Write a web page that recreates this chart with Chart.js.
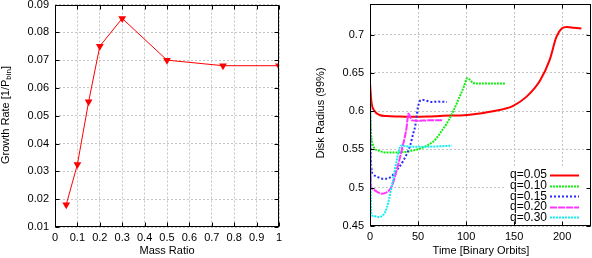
<!DOCTYPE html>
<html>
<head>
<meta charset="utf-8">
<script src="https://cdn.jsdelivr.net/npm/chart.js@4.4.1/dist/chart.umd.min.js"></script>
<style>
  html, body { margin: 0; padding: 0; background: #fff; }
  #wrap { position: relative; width: 592px; height: 258px; }
  .panel { position: absolute; top: 0; width: 296px; height: 258px; }
</style>
</head>
<body>
<div id="wrap">
  <div class="panel" style="left:0"><canvas id="growthChart" width="296" height="258"></canvas></div>
  <div class="panel" style="left:296px"><canvas id="radiusChart" width="296" height="258"></canvas></div>
</div>
<script>
// ---- left panel: growth rate vs mass ratio ----
const massRatio = [0.05, 0.1, 0.15, 0.2, 0.3, 0.5, 0.75, 1.0];
const growthRate = [0.018, 0.0325, 0.055, 0.075, 0.085, 0.070, 0.068, 0.068];
const massTicks = [0, 0.1, 0.2, 0.3, 0.4, 0.5, 0.6, 0.7, 0.8, 0.9, 1];
const massTickLabels = ["0", "0.1", "0.2", "0.3", "0.4", "0.5", "0.6", "0.7", "0.8", "0.9", "1"];
const growthTicks = [0.01, 0.02, 0.03, 0.04, 0.05, 0.06, 0.07, 0.08, 0.09];
const growthTickLabels = ["0.01", "0.02", "0.03", "0.04", "0.05", "0.06", "0.07", "0.08", "0.09"];

// ---- right panel: disk radius vs time ----
const seriesLabels = ["q=0.05", "q=0.10", "q=0.15", "q=0.20", "q=0.30"];

const tQ05 = [0, 1.5, 5, 10, 17, 30, 42, 60, 76, 94, 108, 128, 140, 149, 163, 177, 187, 194, 199.5, 205, 212, 220];
const rQ05 = [0.636, 0.612, 0.600, 0.595, 0.5936, 0.593, 0.5927, 0.593, 0.594, 0.5945, 0.596, 0.600, 0.603, 0.607, 0.619, 0.640, 0.667, 0.697, 0.708, 0.710, 0.709, 0.708];

const tQ10 = [0, 0.5, 1.5, 3, 5, 10, 17, 28, 42, 52, 62, 68, 75, 80, 87, 94, 98, 101, 104, 107, 110, 125, 141];
const rQ10 = [0.62, 0.585, 0.565, 0.556, 0.551, 0.548, 0.546, 0.546, 0.548, 0.551, 0.557, 0.563, 0.575, 0.584, 0.601, 0.621, 0.633, 0.643, 0.641, 0.637, 0.636, 0.636, 0.636];

const tQ15 = [0, 0.5, 1.5, 3, 7, 14, 21, 28, 35, 42, 45, 47, 50, 53, 56, 59, 65, 70, 80];
const rQ15 = [0.62, 0.56, 0.525, 0.518, 0.5146, 0.5116, 0.5134, 0.523, 0.536, 0.556, 0.571, 0.58, 0.6057, 0.6145, 0.6145, 0.6136, 0.612, 0.6125, 0.612];

const tQ20 = [0, 0.5, 1.5, 4, 7, 12, 17, 22.6, 27.8, 33, 38, 40, 42, 44, 50, 60, 75];
const rQ20 = [0.60, 0.53, 0.50, 0.497, 0.495, 0.492, 0.4937, 0.5016, 0.523, 0.549, 0.578, 0.597, 0.592, 0.588, 0.5875, 0.588, 0.588];

const tQ30 = [0, 0.5, 1.5, 4, 8.7, 14, 17.4, 22.6, 27.8, 31.3, 33, 42, 59, 70, 85];
const rQ30 = [0.625, 0.52, 0.465, 0.463, 0.4617, 0.4647, 0.4734, 0.5016, 0.536, 0.5536, 0.555, 0.5536, 0.5536, 0.554, 0.555];

const timeTicks = [0, 50, 100, 150, 200];
const timeTickLabels = ["0", "50", "100", "150", "200"];
const radiusTicks = [0.45, 0.5, 0.55, 0.6, 0.65, 0.7];
const radiusTickLabels = ["0.45", "0.5", "0.55", "0.6", "0.65", "0.7"];

// styles
const seriesColors = ["#ff0000", "#11ee11", "#2a2aff", "#ff33ff", "#11f0f0"];
const seriesDash = [[], [2, 1], [2, 2], [7, 1], [2, 1]];

Chart.defaults.font.family = "'Liberation Sans', Arial, sans-serif";
Chart.defaults.font.size = 11;
Chart.defaults.color = "#000";

function toPoints(xs, ys) {
  return xs.map((x, i) => ({ x: x, y: ys[i] }));
}

// box around the plot plus gnuplot-style inward ticks
const framePlugin = {
  id: "frame",
  afterDraw(chart) {
    const { ctx, chartArea: a, scales } = chart;
    const L = Math.round(a.left) + 0.5, R = Math.round(a.right) - 0.5;
    const T = Math.round(a.top) + 0.5, B = Math.round(a.bottom) - 0.5;
    ctx.save();
    ctx.strokeStyle = "#000";
    ctx.lineWidth = 1;
    ctx.beginPath();
    scales.x.ticks.forEach(t => {
      const px = Math.round(scales.x.getPixelForValue(t.value)) + 0.5;
      ctx.moveTo(px, B); ctx.lineTo(px, B - 4);
      ctx.moveTo(px, T); ctx.lineTo(px, T + 4);
    });
    scales.y.ticks.forEach(t => {
      const py = Math.round(scales.y.getPixelForValue(t.value)) + 0.5;
      ctx.moveTo(L, py); ctx.lineTo(L + 4, py);
      ctx.moveTo(R, py); ctx.lineTo(R - 4, py);
    });
    ctx.stroke();
    ctx.strokeRect(L, T, R - L, B - T);
    ctx.restore();
  }
};

// axis titles drawn by hand (left one needs a subscript)
const titlePlugin = {
  id: "axisText",
  afterDraw(chart, args, opts) {
    const ctx = chart.ctx;
    ctx.save();
    ctx.fillStyle = "#000";
    ctx.textBaseline = "middle";
    ctx.font = "11px 'Liberation Sans', Arial, sans-serif";
    ctx.textAlign = "center";
    ctx.fillText(opts.xText, opts.xPos[0], opts.xPos[1]);

    ctx.translate(opts.yPos[0], opts.yPos[1]);
    ctx.rotate(-Math.PI / 2);
    const mainFont = "11px 'Liberation Sans', Arial, sans-serif";
    const subFont = "8px 'Liberation Sans', Arial, sans-serif";
    const parts = opts.yParts;
    let total = 0;
    parts.forEach(p => { ctx.font = p.sub ? subFont : mainFont; total += ctx.measureText(p.text).width; });
    let cx = -total / 2;
    ctx.textAlign = "left";
    parts.forEach(p => {
      ctx.font = p.sub ? subFont : mainFont;
      ctx.fillText(p.text, cx, p.sub ? 3 : 0);
      cx += ctx.measureText(p.text).width;
    });
    ctx.restore();
  }
};

// key in the lower right corner, text right-aligned before the sample line
const keyPlugin = {
  id: "key",
  beforeDatasetsDraw(chart) {
    const ctx = chart.ctx;
    ctx.save();
    ctx.fillStyle = "#fff";
    ctx.fillRect(210, 168, 84, 57);
    ctx.font = "12px 'Liberation Sans', Arial, sans-serif";
    ctx.textAlign = "right";
    ctx.textBaseline = "middle";
    chart.data.datasets.forEach((ds, i) => {
      const y = 175 + i * 10.6;
      ctx.fillStyle = "#000";
      ctx.fillText(ds.label, 251, y);
      ctx.strokeStyle = ds.borderColor;
      ctx.lineWidth = 2;
      ctx.setLineDash(ds.borderDash);
      ctx.beginPath();
      ctx.moveTo(254, Math.round(y) + 0.5);
      ctx.lineTo(283, Math.round(y) + 0.5);
      ctx.stroke();
    });
    ctx.restore();
  }
};

function gridOpts() {
  return { color: "#c4c4c4", lineWidth: 1, drawTicks: false };
}

new Chart(document.getElementById("growthChart"), {
  type: "line",
  data: {
    datasets: [{
      label: "growth",
      data: toPoints(massRatio, growthRate),
      borderColor: "#ff0000",
      backgroundColor: "#ff0000",
      borderWidth: 1,
      pointStyle: "triangle",
      rotation: 180,
      pointRadius: 4.5,
      pointBorderWidth: 0,
      tension: 0
    }]
  },
  options: {
    responsive: false,
    animation: false,
    layout: { padding: { top: 4, right: 17, left: 0, bottom: 0 } },
    plugins: {
      legend: { display: false },
      tooltip: { enabled: false },
      axisText: {
        xText: "Mass Ratio", xPos: [167, 251],
        yParts: [{ text: "Growth Rate [1/P" }, { text: "bin", sub: true }, { text: "]" }],
        yPos: [6, 115]
      }
    },
    scales: {
      x: {
        type: "linear", min: 0, max: 1,
        afterBuildTicks: s => { s.ticks = massTicks.map(v => ({ value: v })); },
        afterFit: s => { s.height = 31; s.paddingLeft = 0; s.paddingRight = 0; },
        ticks: { callback: (v, i) => massTickLabels[i], padding: 4, maxRotation: 0, autoSkip: false },
        grid: gridOpts(),
        border: { display: false, dash: [2, 2] }
      },
      y: {
        type: "linear", min: 0.01, max: 0.09,
        afterBuildTicks: s => { s.ticks = growthTicks.map(v => ({ value: v })); },
        afterFit: s => { s.width = 55; s.paddingTop = 0; s.paddingBottom = 0; },
        ticks: { callback: (v, i) => growthTickLabels[i], padding: 6, autoSkip: false },
        grid: gridOpts(),
        border: { display: false, dash: [2, 2] }
      }
    }
  },
  plugins: [framePlugin, titlePlugin]
});

const radiusSeries = [[tQ05, rQ05], [tQ10, rQ10], [tQ15, rQ15], [tQ20, rQ20], [tQ30, rQ30]];

new Chart(document.getElementById("radiusChart"), {
  type: "line",
  data: {
    datasets: radiusSeries.map((s, i) => ({
      label: seriesLabels[i],
      data: toPoints(s[0], s[1]),
      borderColor: seriesColors[i],
      borderDash: seriesDash[i],
      borderWidth: 2,
      pointRadius: 0,
      cubicInterpolationMode: "monotone",
      order: radiusSeries.length - 1 - i
    }))
  },
  options: {
    responsive: false,
    animation: false,
    layout: { padding: { top: 4, right: 1, left: 0, bottom: 0 } },
    plugins: {
      legend: { display: false },
      tooltip: { enabled: false },
      axisText: {
        xText: "Time [Binary Orbits]", xPos: [185, 251],
        yParts: [{ text: "Disk Radius (99%)" }],
        yPos: [25, 113]
      }
    },
    scales: {
      x: {
        type: "linear", min: 0, max: 230,
        afterBuildTicks: s => { s.ticks = timeTicks.map(v => ({ value: v })); },
        afterFit: s => { s.height = 32; s.paddingLeft = 0; s.paddingRight = 0; },
        ticks: { callback: (v, i) => timeTickLabels[i], padding: 4, maxRotation: 0, autoSkip: false },
        grid: gridOpts(),
        border: { display: false, dash: [2, 2] }
      },
      y: {
        type: "linear", min: 0.45, max: 0.74,
        afterBuildTicks: s => { s.ticks = radiusTicks.map(v => ({ value: v })); },
        afterFit: s => { s.width = 74; s.paddingTop = 0; s.paddingBottom = 0; },
        ticks: { callback: (v, i) => radiusTickLabels[i], padding: 6, autoSkip: false },
        grid: gridOpts(),
        border: { display: false, dash: [2, 2] }
      }
    }
  },
  plugins: [framePlugin, titlePlugin, keyPlugin]
});
</script>
</body>
</html>
